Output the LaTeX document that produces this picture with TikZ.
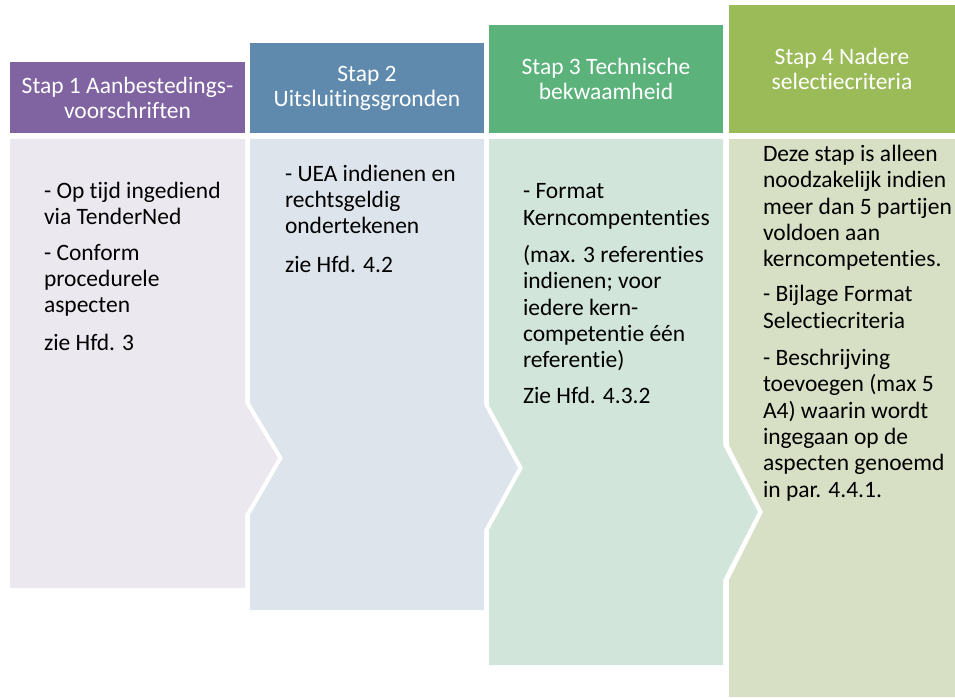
\documentclass[tikz,border=0pt]{standalone}
\usepackage{fontspec}
\setmainfont{Carlito}[Ligatures={NoCommon}]
\definecolor{hdrA}{HTML}{8064A2}
\definecolor{hdrB}{HTML}{5F8AAD}
\definecolor{hdrC}{HTML}{5BB37B}
\definecolor{hdrD}{HTML}{9BBB59}
\definecolor{bodyA}{HTML}{EBE9EF}
\definecolor{bodyB}{HTML}{DDE4EB}
\definecolor{bodyC}{HTML}{D2E5DA}
\definecolor{bodyD}{HTML}{D7E0C4}
\tikzset{
  hdr/.style={inner sep=0, outer sep=0, text=white, align=center,
    font=\fontsize{23.5}{25}\selectfont},
  body/.style={inner sep=0, outer sep=0, anchor=base west, align=left,
    font=\fontsize{23.5}{26.3}\selectfont}
}
\begin{document}
\begin{tikzpicture}[x=1pt,y=-1pt]
  \useasboundingbox (0,0) rectangle (955,697);
  \clip (0,0) rectangle (955,697);
  % headers
  \node[hdr, fill=hdrA, minimum width=235, minimum height=71] (h1) at (127.5,97.5) {Stap 1 Aanbestedings-\\voorschriften};
  \node[hdr, fill=hdrB, minimum width=234, minimum height=90] (h2) at (367,88) {Stap 2\\Uitsluitingsgronden};
  \node[hdr, fill=hdrC, minimum width=234, minimum height=108] (h3) at (606,79) {Stap 3 Technische\\bekwaamheid};
  \node[hdr, fill=hdrD, minimum width=226, minimum height=128] (h4) at (842,69) {Stap 4 Nadere\\selectiecriteria};
  % bodies
  \fill[bodyA] (10,139) -- (245,139) -- (245,403) -- (278,458) -- (245,515) -- (245,588) -- (10,588) -- cycle;
  \fill[bodyB] (250,139) -- (484,139) -- (484,405) -- (518,468) -- (484,530) -- (484,610) -- (250,610)
    -- (250,515) -- (283,458) -- (250,403) -- cycle;
  \fill[bodyC] (489,139) -- (723,139) -- (723,445) -- (758,512) -- (723,580) -- (723,665) -- (489,665)
    -- (489,530) -- (523,468) -- (489,405) -- cycle;
  \fill[bodyD] (729,139) -- (955,139) -- (955,697) -- (729,697)
    -- (729,580) -- (763,512) -- (729,445) -- cycle;
  % texts (placed at the baseline of their last line)
  \node[body] (t1) at (44,350) {- Op tijd ingediend\\via TenderNed\\[9pt]- Conform\\procedurele\\aspecten\\[11pt]zie Hfd. 3};
  \node[body] (t2) at (285,272) {- UEA indienen en\\rechtsgeldig\\ondertekenen\\[12pt]zie Hfd. 4.2};
  \node[body] (t3) at (523,403) {- Format\\Kerncompententies\\[11pt](max. 3 referenties\\indienen; voor\\iedere kern-\\competentie één\\referentie)\\[9pt]Zie Hfd. 4.3.2};
  \node[body] (t4) at (763,497) {Deze stap is alleen\\noodzakelijk indien\\meer dan 5 partijen\\voldoen aan\\kerncompetenties.\\[9pt]- Bijlage Format\\Selectiecriteria\\[11pt]- Beschrijving\\toevoegen (max 5\\A4) waarin wordt\\ingegaan op de\\aspecten genoemd\\in par. 4.4.1.};
\end{tikzpicture}
\end{document}
